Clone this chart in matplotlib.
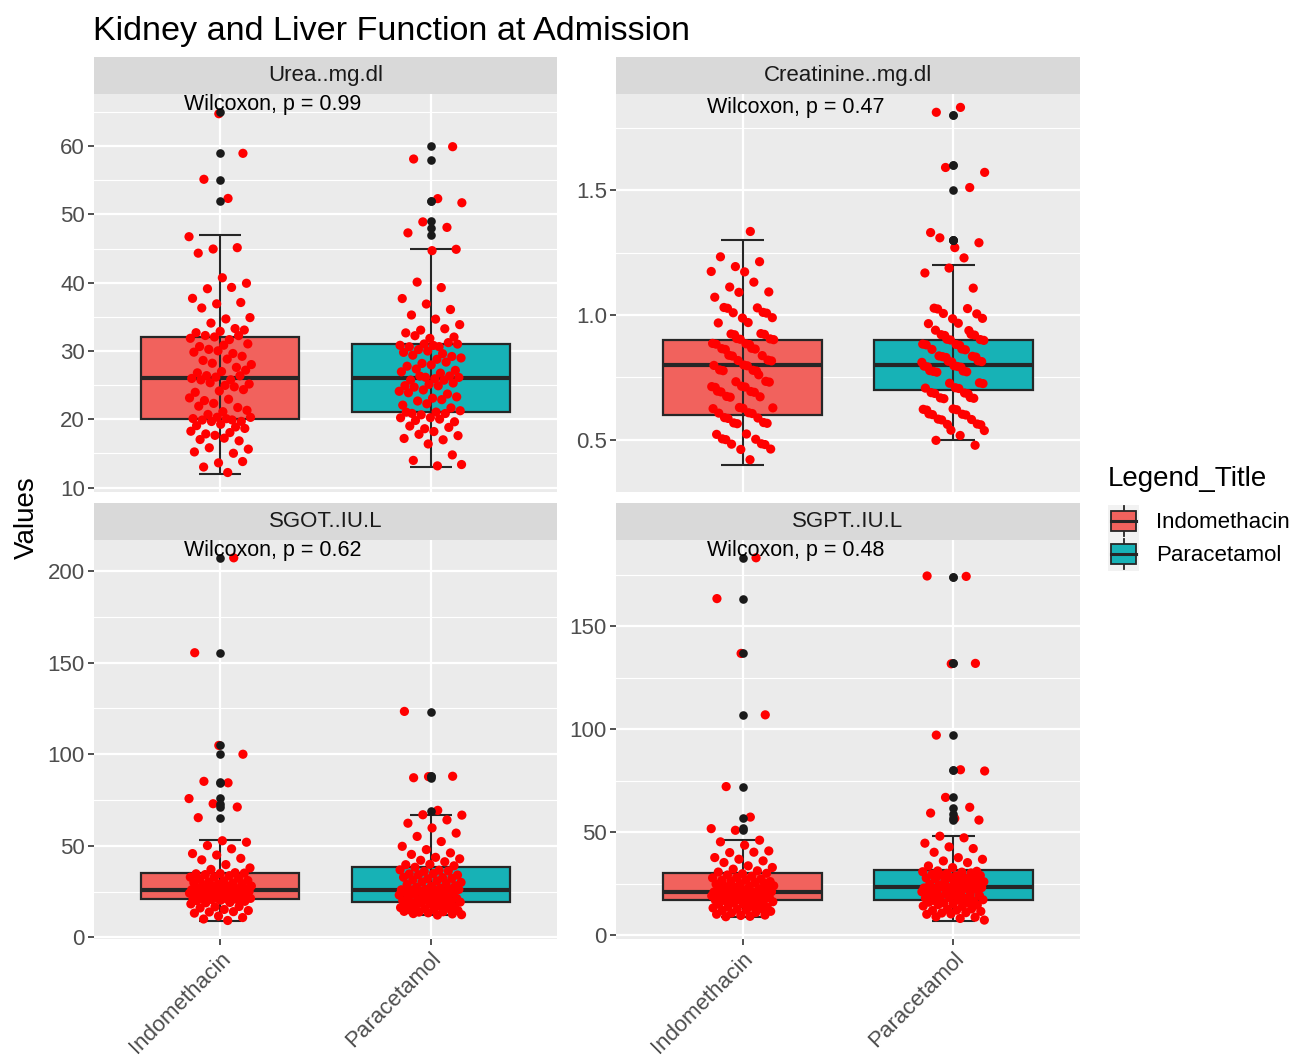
import numpy as np
import matplotlib
matplotlib.use("Agg")
import matplotlib.pyplot as plt
from matplotlib import cbook
from matplotlib.patches import Rectangle, Patch
from matplotlib.lines import Line2D
from matplotlib.legend_handler import HandlerBase

plt.rcParams['font.family'] = ['Liberation Sans', 'DejaVu Sans']

# ---------------- data ----------------
title = "Kidney and Liver Function at Admission"
groups = ["Indomethacin", "Paracetamol"]
facets = ["Urea..mg.dl", "Creatinine..mg.dl", "SGOT..IU.L", "SGPT..IU.L"]
p_labels = ["Wilcoxon, p = 0.99", "Wilcoxon, p = 0.47",
            "Wilcoxon, p = 0.62", "Wilcoxon, p = 0.48"]

urea_indo = [12, 13, 14, 14, 15, 15, 16, 16, 17, 17, 17, 18, 18, 18, 18,
             19, 19, 19, 19, 20, 20, 20, 20, 20, 20, 20, 20, 21, 21, 21,
             22, 22, 22, 23, 23, 23, 24, 24, 24, 25, 25, 25, 25, 26, 26,
             26, 26, 26, 26, 27, 27, 27, 28, 28, 28, 29, 29, 29, 30, 30,
             30, 30, 31, 31, 31, 32, 32, 32, 32, 32, 33, 33, 33, 33, 34,
             35, 35, 36, 37, 37, 38, 39, 39, 40, 41, 44, 45, 45, 47, 52,
             55, 59, 65]
urea_para = [13, 13, 14, 15, 16, 17, 17, 18, 18, 18, 19, 19, 19, 20, 20,
             20, 20, 20, 21, 21, 21, 21, 21, 21, 22, 22, 22, 23, 23, 23,
             23, 24, 24, 24, 24, 25, 25, 25, 25, 25, 26, 26, 26, 26, 26,
             26, 26, 27, 27, 27, 27, 28, 28, 28, 28, 29, 29, 29, 29, 30,
             30, 30, 30, 31, 31, 31, 31, 31, 31, 31, 32, 32, 32, 33, 33,
             33, 34, 35, 35, 36, 37, 38, 39, 40, 45, 45, 47, 48, 49, 52,
             52, 58, 60]

creat_indo = [0.4, 0.5, 0.5, 0.5, 0.5, 0.5, 0.5, 0.5, 0.5, 0.5, 0.5,
              0.6, 0.6, 0.6, 0.6, 0.6, 0.6, 0.6, 0.6, 0.6, 0.6, 0.6, 0.6, 0.6, 0.6,
              0.7, 0.7, 0.7, 0.7, 0.7, 0.7, 0.7, 0.7, 0.7, 0.7, 0.7, 0.7, 0.7, 0.7,
              0.8, 0.8, 0.8, 0.8, 0.8, 0.8, 0.8, 0.8, 0.8, 0.8, 0.8, 0.8, 0.8, 0.8,
              0.9, 0.9, 0.9, 0.9, 0.9, 0.9, 0.9, 0.9, 0.9, 0.9, 0.9, 0.9, 0.9, 0.9,
              0.9, 0.9,
              1.0, 1.0, 1.0, 1.0, 1.0, 1.0, 1.0, 1.0, 1.0, 1.0,
              1.1, 1.1, 1.1, 1.1, 1.1, 1.2, 1.2, 1.2, 1.2, 1.2, 1.3]
creat_para = [0.5, 0.5, 0.5, 0.5, 0.5,
              0.6, 0.6, 0.6, 0.6, 0.6, 0.6, 0.6, 0.6, 0.6, 0.6, 0.6, 0.6, 0.6, 0.6,
              0.7, 0.7, 0.7, 0.7, 0.7, 0.7, 0.7, 0.7, 0.7, 0.7, 0.7, 0.7, 0.7, 0.7,
              0.8, 0.8, 0.8, 0.8, 0.8, 0.8, 0.8, 0.8, 0.8, 0.8, 0.8, 0.8, 0.8, 0.8,
              0.8, 0.8, 0.8, 0.8, 0.8, 0.8,
              0.9, 0.9, 0.9, 0.9, 0.9, 0.9, 0.9, 0.9, 0.9, 0.9, 0.9, 0.9, 0.9, 0.9,
              0.9, 0.9, 0.9,
              1.0, 1.0, 1.0, 1.0, 1.0, 1.0, 1.0, 1.0, 1.0,
              1.1, 1.2, 1.2, 1.2, 1.3, 1.3, 1.3, 1.3, 1.5, 1.6, 1.6, 1.8, 1.8]

sgot_indo = [9, 10, 11, 12, 13, 14, 14, 15, 15, 16, 17, 17, 18, 19, 19,
             20, 20, 20, 21, 21, 21, 21, 21, 21, 21, 21, 22, 22, 22, 23,
             23, 23, 23, 24, 24, 24, 24, 25, 25, 25, 25, 25, 26, 26, 26,
             26, 26, 26, 26, 26, 27, 27, 27, 28, 28, 28, 29, 29, 29, 30,
             30, 30, 31, 31, 32, 32, 33, 33, 34, 34, 35, 35, 35, 35, 37,
             38, 40, 42, 43, 45, 46, 48, 50, 52, 53, 65, 71, 73, 76, 84,
             85, 100, 105, 155, 207]
sgot_para = [12, 12, 13, 13, 13, 14, 14, 14, 15, 15, 15, 16, 16, 16, 17,
             17, 17, 18, 18, 18, 19, 19, 19, 19, 20, 20, 20, 21, 21, 21,
             22, 22, 22, 23, 23, 23, 24, 24, 24, 25, 25, 25, 26, 26, 26,
             26, 26, 26, 27, 27, 28, 28, 29, 29, 30, 30, 31, 31, 32, 32,
             33, 33, 34, 34, 35, 35, 36, 36, 37, 37, 38, 39, 40, 40, 41,
             42, 43, 44, 45, 46, 48, 50, 52, 55, 57, 60, 62, 64, 67, 67,
             69, 87, 88, 88, 123]

sgpt_indo = [9, 9, 10, 10, 10, 11, 11, 12, 12, 12, 13, 13, 13, 14, 14,
             14, 15, 15, 15, 16, 16, 16, 17, 17, 17, 17, 17, 18, 18, 18,
             18, 19, 19, 19, 19, 20, 20, 20, 20, 20, 21, 21, 21, 21, 21,
             21, 21, 21, 22, 22, 22, 23, 23, 23, 24, 24, 24, 25, 25, 25,
             26, 26, 26, 27, 27, 27, 28, 28, 29, 29, 30, 30, 31, 31, 32,
             33, 34, 35, 36, 37, 38, 40, 40, 41, 44, 45, 46, 51, 52, 57,
             72, 107, 137, 163, 183]
sgpt_para = [7, 8, 9, 9, 10, 10, 11, 11, 12, 12, 12, 13, 13, 14, 14,
             15, 15, 15, 16, 16, 16, 17, 17, 17, 17, 18, 18, 18, 19, 19,
             19, 20, 20, 20, 21, 21, 21, 22, 22, 22, 23, 23, 23, 23, 23,
             23, 23, 23, 24, 24, 25, 25, 25, 26, 26, 26, 27, 27, 27, 28,
             28, 28, 29, 29, 29, 30, 30, 30, 31, 31, 31, 31, 33, 34, 35,
             36, 37, 38, 40, 42, 43, 45, 47, 48, 56, 57, 59, 62, 67, 80,
             80, 97, 132, 132, 174, 174]

facet_data = [[urea_indo, urea_para], [creat_indo, creat_para],
              [sgot_indo, sgot_para], [sgpt_indo, sgpt_para]]
major_ticks = [[10, 20, 30, 40, 50, 60], [0.5, 1.0, 1.5],
               [0, 50, 100, 150, 200], [0, 50, 100, 150]]
major_labels = [["10", "20", "30", "40", "50", "60"], ["0.5", "1.0", "1.5"],
                ["0", "50", "100", "150", "200"], ["0", "50", "100", "150"]]
minor_ticks = [[15, 25, 35, 45, 55, 65], [0.75, 1.25, 1.75],
               [25, 75, 125, 175], [25, 75, 125, 175]]
# y ranges of each facet (include jittered points, as in the original)
y_limits = [(9.35, 67.65), (0.291, 1.886), (-0.9, 216.9), (-1.8, 191.8)]

# ---------------- style ----------------
fills = ["#F1625D", "#17B2B6"]
edge = "#262626"
res = [1.0, 0.1, 1.0, 1.0]   # data resolution used for vertical jitter

W, H = 1298, 1057
fig = plt.figure(figsize=(W / 100, H / 100), dpi=100)
fig.patch.set_facecolor("white")


def rect(x0, y0, x1, y1):
    return [x0 / W, 1 - y1 / H, (x1 - x0) / W, (y1 - y0) / H]


# (x0, y0, x1, y1, strip_top)
layout = [(94, 94, 557, 492, 57), (616, 94, 1080, 492, 57),
          (94, 540, 557, 939, 503), (616, 540, 1080, 939, 503)]

g1 = 0.6180339887
g2 = 0.7548776662

for i, (x0, y0, x1, y1, st) in enumerate(layout):
    ax = fig.add_axes(rect(x0, y0, x1, y1))
    ax.set_facecolor("#EBEBEB")
    for s in ax.spines.values():
        s.set_visible(False)
    data = facet_data[i]
    positions = [0, 1]
    stats = [cbook.boxplot_stats(np.asarray(d, float), whis=1.5)[0] for d in data]
    bp = ax.bxp(stats, positions=positions, widths=0.75, patch_artist=True,
                showcaps=False, showfliers=True,
                boxprops=dict(linewidth=1.6, edgecolor=edge),
                medianprops=dict(color=edge, linewidth=3.0),
                whiskerprops=dict(linewidth=0),
                flierprops=dict(marker="o", markerfacecolor="#1A1A1A",
                                markeredgecolor="none", markersize=6.2))
    for b, fc in zip(bp["boxes"], fills):
        b.set_facecolor(fc)
        b.set_zorder(2)
    for m in bp["medians"]:
        m.set_zorder(2.2)
    # error-bar whiskers (through the box)
    for p, st_ in zip(positions, stats):
        ax.vlines(p, st_["whislo"], st_["whishi"], color=edge, lw=1.5, zorder=2.5)
        ax.hlines([st_["whislo"], st_["whishi"]], p - 0.1, p + 0.1,
                  color=edge, lw=1.5, zorder=2.5)
    # jittered points
    for p, d in zip(positions, data):
        d = np.asarray(d, float)
        n = len(d)
        k = np.arange(n)
        jx = (((k + 1) * g1 + 0.37 * p) % 1.0 - 0.5) * 0.30
        jy = (((k + 1) * g2 + 0.21 * p) % 1.0 - 0.5) * 0.8 * res[i]
        ax.scatter(p + jx, d + jy, s=44, color="#FF0000", edgecolors="none",
                   zorder=3)
    for f in bp["fliers"]:
        f.set_zorder(4)

    allv = np.concatenate([np.asarray(d, float) for d in data])
    hi = allv.max()
    ax.set_ylim(*y_limits[i])
    ax.set_xlim(-0.6, 1.6)

    ax.set_yticks(major_ticks[i])
    ax.set_yticklabels(major_labels[i])
    ax.set_yticks(minor_ticks[i], minor=True)
    ax.set_xticks(positions)
    ax.set_axisbelow(True)
    ax.grid(which="major", color="white", linewidth=1.6)
    ax.grid(which="minor", axis="y", color="white", linewidth=0.8)
    ax.tick_params(axis="y", which="minor", length=0)
    ax.tick_params(axis="both", which="major", length=4.5, width=1.2,
                   color="#333333", labelsize=16, labelcolor="#4D4D4D", pad=2)
    if i < 2:
        ax.tick_params(axis="x", bottom=False, labelbottom=False)
    else:
        ax.set_xticklabels(groups, rotation=45, ha="right", va="top",
                           rotation_mode="anchor")

    ax.annotate(p_labels[i], xy=(-0.17, hi), xytext=(0, 5.5),
                textcoords="offset points", ha="left", va="center",
                fontsize=15.5, color="black", zorder=5)

    sax = fig.add_axes(rect(x0, st, x1, y0))
    sax.set_facecolor("#D9D9D9")
    sax.set_xticks([])
    sax.set_yticks([])
    for s in sax.spines.values():
        s.set_visible(False)
    sax.text(0.5, 0.5, facets[i], ha="center", va="center", fontsize=16,
             color="#1A1A1A", transform=sax.transAxes)

fig.text(93 / W, 1 - 40 / H, title, fontsize=24.6, ha="left", va="baseline",
         color="black")
fig.text(27 / W, 1 - 518 / H, "Values", fontsize=20, rotation=90,
         ha="center", va="center", color="black")


class BoxKey(HandlerBase):
    def create_artists(self, legend, orig_handle, xdescent, ydescent,
                       width, height, fontsize, trans):
        fc = orig_handle.get_facecolor()
        x0, y0 = -xdescent, -ydescent
        bg = Rectangle((x0, y0), width, height, facecolor="#F2F2F2",
                       edgecolor="none", transform=trans)
        cx = x0 + width / 2
        wl = Line2D([cx, cx], [y0 + height * 0.04, y0 + height * 0.96],
                    color=edge, lw=1.3, transform=trans)
        bx0, bw = x0 + width * 0.1, width * 0.8
        by0, bh = y0 + height * 0.2, height * 0.6
        box = Rectangle((bx0, by0), bw, bh, facecolor=fc, edgecolor=edge,
                        lw=1.3, transform=trans)
        med = Line2D([bx0, bx0 + bw], [by0 + bh / 2] * 2, color=edge, lw=2.2,
                     transform=trans)
        return [bg, wl, box, med]


handles = [Patch(facecolor=c) for c in fills]
leg = fig.legend(handles=handles, labels=groups, title="Legend_Title",
                 loc="upper left", bbox_to_anchor=(1108 / W, 1 - 466 / H),
                 frameon=False, fontsize=16, title_fontsize=20,
                 handler_map={Patch: BoxKey()}, handlelength=1.4,
                 handleheight=1.91, labelspacing=0.0, handletextpad=0.75,
                 borderpad=0, borderaxespad=0, alignment="left")
leg._legend_box.sep = 9

fig.savefig("out.png", dpi=100)
